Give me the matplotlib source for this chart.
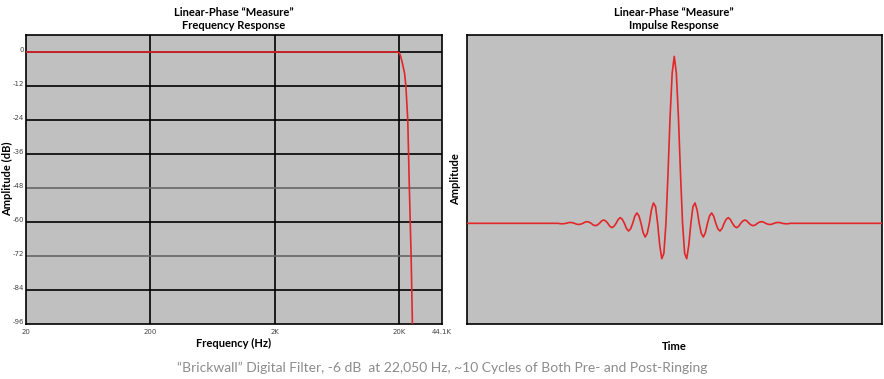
import numpy as np
import matplotlib
matplotlib.use("Agg")
import matplotlib.pyplot as plt

# ---- data ----
freq_hz = [20, 200, 2000, 19000, 20000, 20500, 21200, 22050, 22600, 23400, 24100, 24900, 25500, 25700]
mag_db = [0, 0, 0, 0, -0.2, -1.5, -4, -7.5, -12, -24, -48, -72, -96, -104]

freq_ticks = [20, 200, 2000, 20000, 44100]
freq_ticklabels = ["20", "200", "2K", "20K", "44.1K"]
db_ticks = [0, -12, -24, -36, -48, -60, -72, -84, -96]
db_ticklabels = ["0", "-12", "-24", "-36", "-48", "-60", "-72", "-84", "-96"]
grey_db_lines = [-48, -72]

impulse_core_t = np.arange(-14, 14.001, 0.25)
impulse_core = [
    -0.002, -0.003, -0.002, 0.0,
    0.004, 0.005, 0.004, 0.0,
    -0.005, -0.007, -0.005, 0.0,
    0.007, 0.010, 0.007, 0.0,
    -0.010, -0.014, -0.010, 0.0,
    0.014, 0.020, 0.014, 0.0,
    -0.018, -0.026, -0.018, 0.0,
    0.023, 0.034, 0.024, 0.0,
    -0.031, -0.046, -0.033, 0.0,
    0.042, 0.062, 0.045, 0.0,
    -0.055, -0.082, -0.06, 0.0,
    0.08, 0.122, 0.10, 0.0,
    -0.13, -0.212, -0.18, 0.0,
    0.30, 0.64, 0.90,
    1.0,
    0.90, 0.64, 0.30, 0.0,
    -0.18, -0.212, -0.13, 0.0,
    0.10, 0.122, 0.08, 0.0,
    -0.06, -0.082, -0.055, 0.0,
    0.045, 0.062, 0.042, 0.0,
    -0.033, -0.046, -0.031, 0.0,
    0.024, 0.034, 0.023, 0.0,
    -0.018, -0.026, -0.018, 0.0,
    0.014, 0.020, 0.014, 0.0,
    -0.010, -0.014, -0.010, 0.0,
    0.007, 0.010, 0.007, 0.0,
    -0.005, -0.007, -0.005, 0.0,
    0.004, 0.005, 0.004, 0.0,
    -0.002, -0.003, -0.002,
]
impulse_t = np.concatenate([[-25, -14], impulse_core_t[1:], [25]])
impulse_amp = [0.0, 0.0] + impulse_core + [0.0, 0.0]

# ---- style ----
RED = "#e3262a"
BG = "#c0c0c0"
TITLE_FONT = ["Lato", "DejaVu Sans"]

fig = plt.figure(figsize=(8.84, 3.79), dpi=100)
fig.patch.set_facecolor("white")

W, H = 884, 379
def rect(x0, x1, y0, y1):
    return [x0 / W, 1 - y1 / H, (x1 - x0) / W, (y1 - y0) / H]

ax1 = fig.add_axes(rect(26, 442, 35, 323.5))
ax2 = fig.add_axes(rect(466.5, 882, 35, 323.5))

for ax in (ax1, ax2):
    ax.set_facecolor(BG)
    for s in ax.spines.values():
        s.set_color("black")
        s.set_linewidth(1.2)

# Left: frequency response
ax1.set_xscale("log")
ax1.set_xlim(20, 44100)
ax1.set_ylim(-96, 6)
for f in freq_ticks[1:4]:
    ax1.axvline(f, color="black", lw=1.2, zorder=1)
for d in db_ticks[:-1]:
    c = "#666666" if d in grey_db_lines else "black"
    ax1.axhline(d, color=c, lw=1.2, zorder=1)
ax1.plot(freq_hz, mag_db, color=RED, lw=1.2, zorder=3)
ax1.set_xticks(freq_ticks)
ax1.set_xticklabels(freq_ticklabels)
ax1.xaxis.set_minor_locator(matplotlib.ticker.NullLocator())
ax1.set_yticks(db_ticks)
ax1.set_yticklabels(db_ticklabels)
ax1.tick_params(axis="both", length=0, labelsize=5, labelcolor="#444444")
ax1.tick_params(axis="y", pad=1.5)
ax1.tick_params(axis="x", pad=4)
for lbl in ax1.get_yticklabels():
    lbl.set_va("baseline")
ax1.set_xlabel("Frequency (Hz)", fontsize=8, fontweight="bold", family=TITLE_FONT)
ax1.xaxis.set_label_coords(0.5, -(343 - 323.5) / 288.5)
ax1.xaxis.label.set_va("center")
ax1.set_ylabel("Amplitude (dB)", fontsize=8, fontweight="bold", family=TITLE_FONT)
ax1.yaxis.set_label_coords(-(26 - 8) / 416, 0.5)
ax1.yaxis.label.set_va("center")
ax1.set_title("Linear-Phase \u201cMeasure\u201d\nFrequency Response", fontsize=8,
              fontweight="bold", family=TITLE_FONT, pad=4, linespacing=1.3)

# Right: impulse response
ax2.set_xlim(-25, 25)
ax2.set_ylim(-0.6, 1.128)
ax2.plot(impulse_t, impulse_amp, color=RED, lw=1.2, zorder=3)
ax2.set_xticks([])
ax2.set_yticks([])
ax2.set_xlabel("Time", fontsize=8, fontweight="bold", family=TITLE_FONT)
ax2.xaxis.set_label_coords(0.5, -(346 - 323.5) / 288.5)
ax2.xaxis.label.set_va("center")
ax2.set_ylabel("Amplitude", fontsize=8, fontweight="bold", family=TITLE_FONT)
ax2.yaxis.set_label_coords(-(466.5 - 456) / 415.5, 0.5)
ax2.yaxis.label.set_va("center")
ax2.set_title("Linear-Phase \u201cMeasure\u201d\nImpulse Response", fontsize=8,
              fontweight="bold", family=TITLE_FONT, pad=4, linespacing=1.3)

fig.text(0.5, 1 - 368 / H, "\u201cBrickwall\u201d Digital Filter, -6 dB  at 22,050 Hz, ~10 Cycles of Both Pre- and Post-Ringing",
         ha="center", va="center", fontsize=10, color="#8c8c8c", family=TITLE_FONT)

fig.savefig("out.png", dpi=100)
